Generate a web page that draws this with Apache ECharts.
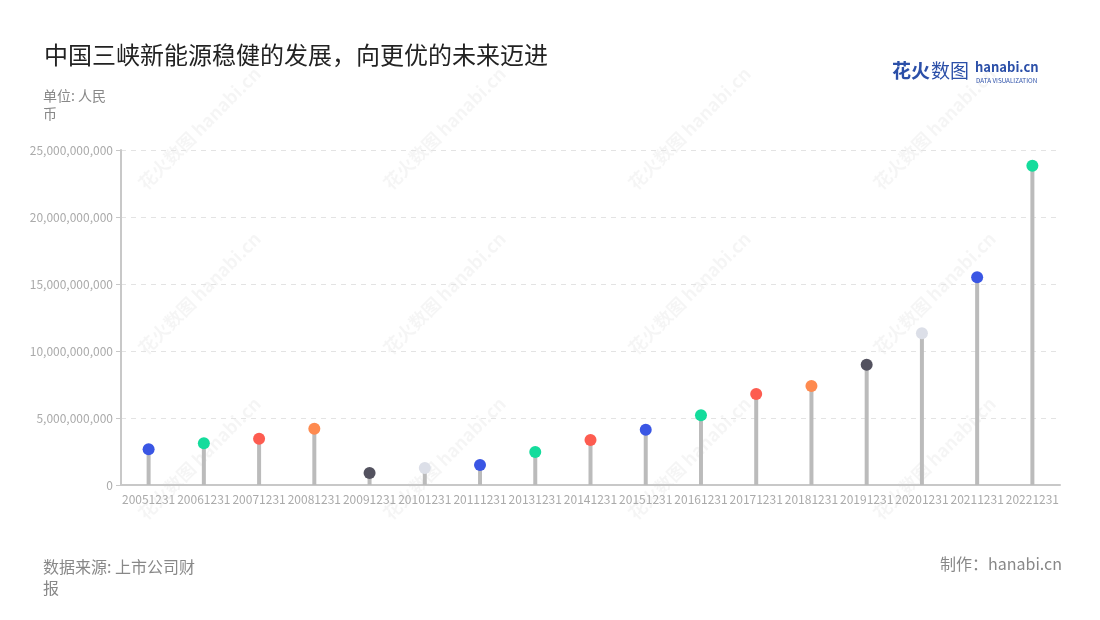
<!DOCTYPE html>
<html><head><meta charset="utf-8">
<script src="https://cdn.jsdelivr.net/npm/echarts@6/dist/echarts.min.js"></script>
<style>html,body{margin:0;padding:0;background:#fff}#c{width:1100px;height:620px}</style>
</head><body><div id="c"></div>
<script>
const categories = ['20051231','20061231','20071231','20081231','20091231','20101231','20111231','20131231','20141231','20151231','20161231','20171231','20181231','20191231','20201231','20211231','20221231'];
const values = [2.66e9,3.11e9,3.46e9,4.20e9,0.90e9,1.27e9,1.49e9,2.46e9,3.36e9,4.13e9,5.20e9,6.79e9,7.39e9,8.98e9,11.32e9,15.50e9,23.83e9];
const palette = ['#3a56e4','#14dc9c','#fd5c50','#fe8a4f','#53525f','#dcdfe8','#3a56e4','#14dc9c','#fd5c50'];
const yTicks = [0,5e9,10e9,15e9,20e9,25e9];

const font = '"Noto Sans CJK SC","Noto Sans",sans-serif';
const chart = echarts.init(document.getElementById('c'));

const wm = [];
[[135,180],[380,180],[625,180],[870,180],[135,345],[380,345],[625,345],[870,345],[135,510],[380,510],[625,510],[870,510]].forEach(p=>{
  wm.push({type:'text', x:p[0], y:p[1], rotation:Math.PI/4, silent:true, z:0,
    style:{text:'花火数图 hanabi.cn', fill:'rgba(0,0,0,0.04)', font:'bold 18px '+font}});
});

chart.setOption({
  backgroundColor:'#fff',
  textStyle:{fontFamily:font},
  title:{text:'中国三峡新能源稳健的发展，向更优的未来迈进', left:39, top:38,
    textStyle:{fontSize:24, fontWeight:'normal', color:'#222', fontFamily:font}},
  graphic:[
    ...wm,
    {type:'text', left:43, top:87, style:{text:'单位: 人民\n币', fill:'#888', font:'14px '+font, lineHeight:18}},
    {type:'text', left:43, top:556, style:{text:'数据来源: 上市公司财\n报', fill:'#888', font:'16px '+font, lineHeight:21}},
    {type:'text', right:38, top:556, style:{text:'制作：hanabi.cn', fill:'#888', font:'16px '+font}},
    {type:'text', left:892, top:61, style:{text:'花火', fill:'#2b4fa8', font:'bold 19px '+font}},
    {type:'text', left:931, top:61, style:{text:'数图', fill:'#2b4fa8', font:'19px '+font}},
    {type:'text', left:975, top:61, style:{text:'hanabi.cn', fill:'#2b4fa8', font:'bold 13px '+font}},
    {type:'text', left:976, top:77, style:{text:'DATA VISUALIZATION', fill:'#2b4fa8', font:'6.3px '+font}}
  ],
  grid:{left:121, right:40, top:150, bottom:135},
  xAxis:{type:'category', data:categories, boundaryGap:true,
    axisLine:{lineStyle:{color:'#c8c8c8', width:2}},
    axisTick:{alignWithLabel:true, lineStyle:{color:'#c8c8c8'}},
    axisLabel:{interval:0, color:'#aaa', fontSize:12, margin:8, fontFamily:font}},
  yAxis:{type:'value', min:0, max:25e9, interval:5e9,
    axisLine:{show:true, lineStyle:{color:'#c8c8c8', width:2}},
    axisTick:{show:true, lineStyle:{color:'#c8c8c8'}},
    splitLine:{lineStyle:{color:'#e3e3e3', type:[5,5]}},
    axisLabel:{color:'#aaa', fontSize:12, fontFamily:font,
      formatter:v=>v.toLocaleString('en-US')}},
  series:[
    {type:'bar', data:values, barWidth:4, itemStyle:{color:'#bbbbbb'}, silent:true, z:2},
    {type:'scatter', data:values.map((v,i)=>({value:v, itemStyle:{color:palette[i%palette.length], opacity:1}})),
      symbolSize:12, z:3}
  ]
});
</script></body></html>
